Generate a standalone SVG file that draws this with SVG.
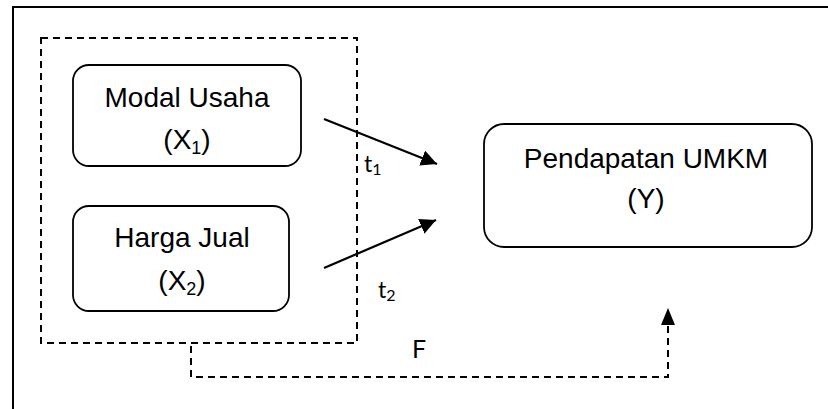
<svg xmlns="http://www.w3.org/2000/svg" width="828" height="409" viewBox="0 0 828 409">
<style>
.node{fill:#fff;stroke:#000;stroke-width:1.8}
.lbl{font-family:"Liberation Sans",Arial,sans-serif;font-size:28px;fill:#000;text-anchor:middle}
.sub{font-size:18px}
.t{font-family:Lato,"Open Sans",sans-serif;font-size:23px;fill:#000}
.ts{font-size:16px}
.f{font-family:Lato,"Open Sans",sans-serif;font-size:25px;fill:#000}
.dash{fill:none;stroke:#000;stroke-width:2;stroke-dasharray:7,5}
.solid{fill:none;stroke:#000;stroke-width:2.2}
</style>
<defs>
<marker id="ah2" markerWidth="16" markerHeight="16" refX="16" refY="8" orient="auto" markerUnits="userSpaceOnUse" viewBox="0 0 16 16">
<path d="M0,0 L16,8 L0,16 z" fill="#000"/>
</marker>
</defs>
<rect width="828" height="409" fill="#fff"/>
<path d="M13,409 V7 H828" fill="none" stroke="#000" stroke-width="2"/>
<g id="group-x">
<rect x="41" y="38" width="316" height="305" class="dash"/>
</g>
<g id="modal-usaha">
<rect x="73" y="65" width="228" height="101" rx="16" class="node"/>
<text x="187" y="107" class="lbl">Modal Usaha</text>
<text x="187" y="149" class="lbl">(X<tspan class="sub" dy="5">1</tspan><tspan dy="-5">)</tspan></text>
</g>
<g id="harga-jual">
<rect x="73" y="206" width="216" height="105" rx="16" class="node"/>
<text x="182" y="247" class="lbl">Harga Jual</text>
<text x="182" y="290" class="lbl">(X<tspan class="sub" dy="5">2</tspan><tspan dy="-5">)</tspan></text>
</g>
<g id="pendapatan">
<rect x="484" y="124" width="328" height="123" rx="20" class="node"/>
<text x="646" y="168" class="lbl">Pendapatan UMKM</text>
<text x="646" y="208" class="lbl">(Y)</text>
</g>
<g id="connectors">
<line x1="324" y1="119" x2="437" y2="164" class="solid" marker-end="url(#ah2)"/>
<line x1="324" y1="268" x2="436" y2="220" class="solid" marker-end="url(#ah2)"/>
<path d="M191,346 V377 H668 V322" class="dash"/>
<path d="M661,325 L668,308 L675,325 z" fill="#000"/>
<text x="364" y="172" class="t">t<tspan class="ts" dy="3">1</tspan></text>
<text x="378" y="298" class="t">t<tspan class="ts" dy="3">2</tspan></text>
<text x="412" y="358" class="f">F</text>
</g>
</svg>
